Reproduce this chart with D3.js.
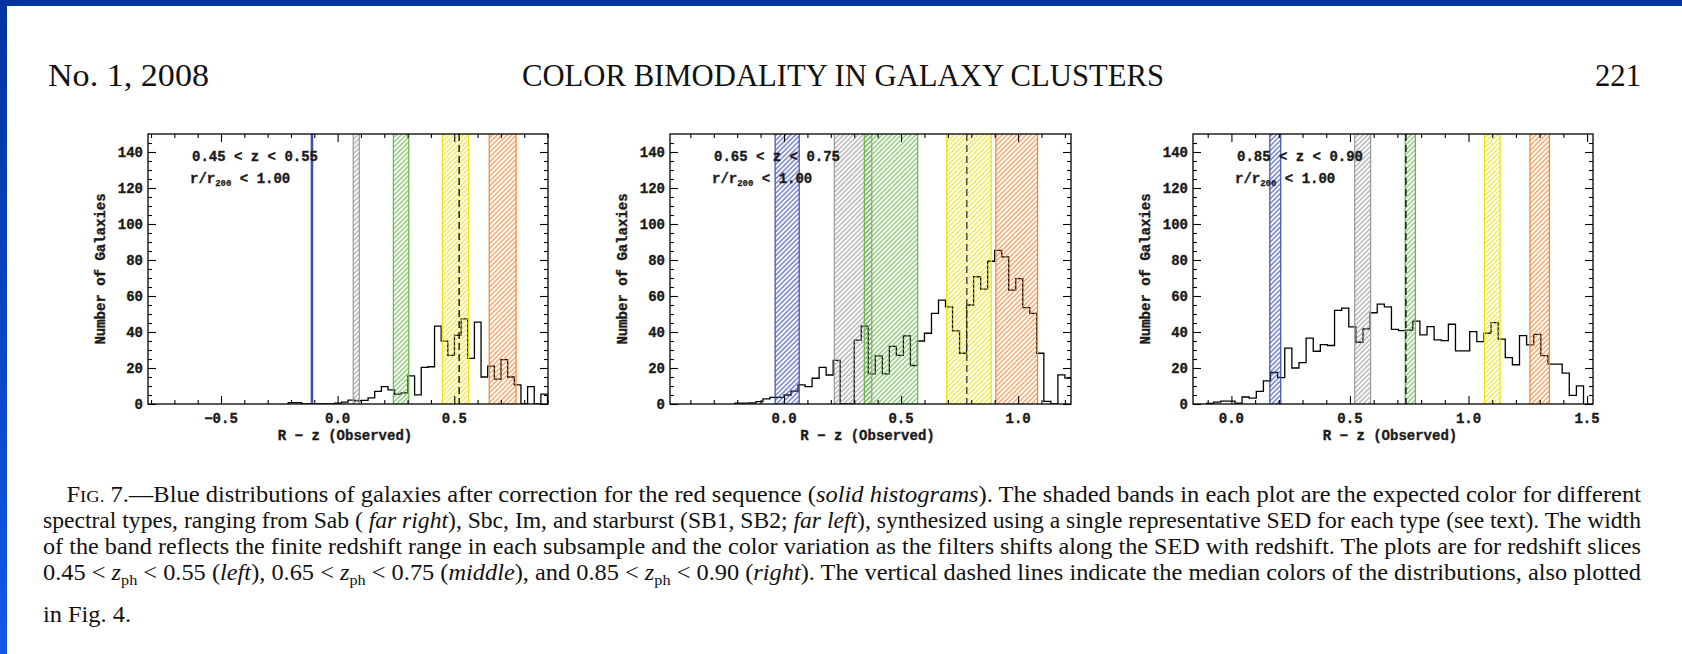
<!DOCTYPE html>
<html><head><meta charset="utf-8">
<script src="https://cdnjs.cloudflare.com/ajax/libs/d3/7.8.5/d3.min.js"></script>
<style>body{margin:0;background:#fff}svg{display:block}</style>
</head><body>
<svg id="c" width="1682" height="654"></svg>
<script>
// ---------------- data ----------------
const panelRanges = ["0.45 < z < 0.55", "0.65 < z < 0.75", "0.85 < z < 0.90"];
const radiusLabel = ["r/r", "200", " < 1.00"];
const xDomains = [[-0.813, 0.902], [-0.487, 1.226], [-0.162, 1.525]];
const yDomain = [0, 150];
const xMajorTicks = [[-0.5, 0.0, 0.5], [0.0, 0.5, 1.0], [0.0, 0.5, 1.0, 1.5]];
const yMajorTicks = [0, 20, 40, 60, 80, 100, 120, 140];
const binStarts = [-0.2115, -0.21, -0.105];
const binWidths = [0.0285, 0.03, 0.03];
const counts1 = [0.8,0.8,0,0,0,0,0,0.5,1,2.2,1.8,2,3.4,7,9.6,7.8,5.5,6.2,15.6,5.1,20.4,20.7,43.3,34.9,27,38.2,47.3,25.3,45.5,15,21,13.8,24.6,15,10.6,0,9.7,0,5.5];
const counts2 = [0.5,0.5,0.6,1.3,2.8,3.7,3.7,5,7.2,10.6,9.6,14.3,20.4,16.1,24.2,0,0,35.5,43.3,16.7,26.7,16.7,32,27,37.8,21.4,35,39.3,50.4,57.7,54,40.6,28.2,55,70.7,63.8,79.3,85.4,81.7,63.3,69.7,53.5,50.4,28.2,1.5,0,16.2,14.4];
const counts3 = [0.4,1.0,1.6,1.6,0.5,3.9,3.3,7,12.8,17.5,14.6,31,20,23,36.6,29.3,33,32.5,52,53.3,42.8,34.3,41.7,50.7,55.5,54,41.5,40.8,41,46,38.4,43,35.6,35.2,44.3,29.5,29.5,40.2,34.7,39.3,45.2,36,25.8,21.8,38,32.8,38.7,26.9,22.1,22.1,17.2,4.8,10.1];
const medians = [0.521, 0.781, 0.736];
const bandTypes = ["SB1", "SB2", "Im", "Sbc", "Sab"];
const bandColors = ["#3a4db4", "#999999", "#64b844", "#ebe10f", "#f2842f"];
const bands1 = [[-0.112, -0.108], [0.067, 0.093], [0.239, 0.305], [0.449, 0.562], [0.650, 0.765]];
const bands2 = [[-0.038, 0.065], [0.215, 0.375], [0.343, 0.571], [0.695, 0.885], [0.905, 1.083]];
const bands3 = [[0.162, 0.208], [0.520, 0.587], [0.733, 0.776], [1.067, 1.133], [1.259, 1.341]];
const xTitle = "R \u2212 z (Observed)";
const yTitle = "Number of Galaxies";
const headerLeft = "No. 1, 2008", headerMid = "COLOR BIMODALITY IN GALAXY CLUSTERS", headerRight = "221";
const captionLines = [
  [["F",""],["IG.","sc"],[" 7.\u2014Blue distributions of galaxies after correction for the red sequence (",""],["solid histograms","i"],["). The shaded bands in each plot are the expected color for different",""]],
  [["spectral types, ranging from Sab ( ",""],["far right","i"],["), Sbc, Im, and starburst (SB1, SB2; ",""],["far left","i"],["), synthesized using a single representative SED for each type (see text). The width",""]],
  [["of the band reflects the finite redshift range in each subsample and the color variation as the filters shifts along the SED with redshift. The plots are for redshift slices",""]],
  [["0.45 < ",""],["z","i"],["ph","sub"],[" < 0.55 (",""],["left","i"],["), 0.65 < ",""],["z","i"],["ph","sub"],[" < 0.75 (",""],["middle","i"],["), and 0.85 < ",""],["z","i"],["ph","sub"],[" < 0.90 (",""],["right","i"],["). The vertical dashed lines indicate the median colors of the distributions, also plotted",""]],
  [["in Fig. 4.",""]]
];

// ---------------- layout ----------------
const frames = [[148, 548], [670, 1071], [1193, 1593]];
const fTop = 134, fBot = 404;
const pfont = "'Liberation Mono', 'Courier New', monospace";
const serif = "'Liberation Serif', 'Times New Roman', serif";

const svg = d3.select("#c");
svg.append("rect").attr("width", 1682).attr("height", 654).attr("fill", "#fff");
const defs = svg.append("defs");
const lg = defs.append("linearGradient").attr("id", "lbar").attr("x1", 0).attr("y1", 0).attr("x2", 0).attr("y2", 1);
lg.append("stop").attr("offset", 0).attr("stop-color", "#0034a0");
lg.append("stop").attr("offset", 1).attr("stop-color", "#1458e6");
svg.append("rect").attr("x", 0).attr("y", 0).attr("width", 1682).attr("height", 6).attr("fill", "#0035a0");
svg.append("rect").attr("x", 0).attr("y", 0).attr("width", 7).attr("height", 654).attr("fill", "url(#lbar)");

bandColors.forEach((c, i) => {
  const p = defs.append("pattern").attr("id", "hatch" + i).attr("patternUnits", "userSpaceOnUse")
    .attr("width", 3.4).attr("height", 3.4).attr("patternTransform", "rotate(45)");
  p.append("line").attr("x1", 1.7).attr("y1", -1).attr("x2", 1.7).attr("y2", 4.4)
    .attr("stroke", c).attr("stroke-width", 1.05);
});

// header
const hdr = [[headerLeft, 48, 161], [headerMid, 522, 642], [headerRight, 1595, 46]];
hdr.forEach(([t, x, len]) => {
  svg.append("text").attr("x", x).attr("y", 86).attr("font-family", serif).attr("font-size", 31)
    .attr("textLength", len).attr("lengthAdjust", "spacingAndGlyphs").attr("fill", "#111").text(t);
});

const allCounts = [counts1, counts2, counts3];
const allBands = [bands1, bands2, bands3];
const txt = sel => sel.attr("font-family", pfont).attr("font-weight", "bold").attr("font-size", 14)
  .attr("fill", "#1a1a1a").attr("stroke", "#1a1a1a").attr("stroke-width", 0.35);

frames.forEach(([fx0, fx1], pi) => {
  const x = d3.scaleLinear().domain(xDomains[pi]).range([fx0, fx1]);
  const y = d3.scaleLinear().domain(yDomain).range([fBot, fTop]);
  const g = svg.append("g");
  const clipId = "clip" + pi;
  defs.append("clipPath").attr("id", clipId).append("rect")
    .attr("x", fx0).attr("y", fTop).attr("width", fx1 - fx0).attr("height", fBot - fTop);
  const inner = g.append("g").attr("clip-path", `url(#${clipId})`);

  // histogram
  const cs = allCounts[pi], s = binStarts[pi], w = binWidths[pi];
  const pts = [[s, 0]];
  cs.forEach((c, i) => pts.push([s + i * w, c]));
  pts.push([s + cs.length * w, cs[cs.length - 1]]);
  pts.push([s + cs.length * w, 0]);
  const line = d3.line().x(d => x(d[0])).y(d => y(d[1])).curve(d3.curveStepAfter);
  inner.append("path").attr("d", line(pts)).attr("fill", "none").attr("stroke", "#000").attr("stroke-width", 1.3);

  // bands
  allBands[pi].forEach((b, bi) => {
    const bx0 = x(b[0]), bx1 = x(b[1]);
    inner.append("rect").attr("x", bx0).attr("y", fTop).attr("width", Math.max(0, bx1 - bx0)).attr("height", fBot - fTop)
      .attr("fill", `url(#hatch${bi})`);
    [bx0, bx1].forEach(xx => inner.append("line").attr("x1", xx).attr("x2", xx).attr("y1", fTop).attr("y2", fBot)
      .attr("stroke", bandColors[bi]).attr("stroke-width", pi === 0 && bi === 0 ? 1.6 : 1.2));
  });

  // median
  inner.append("line").attr("x1", x(medians[pi])).attr("x2", x(medians[pi])).attr("y1", fTop).attr("y2", fBot)
    .attr("stroke", pi === 1 ? "#333" : "#000").attr("stroke-width", 1.3).attr("stroke-dasharray", "7,4");

  // axes ticks
  const [d0, d1] = xDomains[pi];
  const xMinor = d3.range(Math.ceil(d0 * 10), Math.floor(d1 * 10) + 1).filter(t => t % 5 !== 0).map(t => t / 10);
  const yMinor = d3.range(0, 150, 5).filter(t => t % 20 !== 0);
  const axG = g.append("g");
  const addAxis = (gen, tx, ty) => {
    const a = axG.append("g").attr("transform", `translate(${tx},${ty})`).call(gen);
    a.select(".domain").remove();
    a.selectAll("line").attr("stroke", "#000").attr("stroke-width", 1.1);
  };
  addAxis(d3.axisBottom(x).tickValues(xMajorTicks[pi]).tickSize(-8).tickFormat(""), 0, fBot);
  addAxis(d3.axisBottom(x).tickValues(xMinor).tickSize(-4).tickFormat(""), 0, fBot);
  addAxis(d3.axisTop(x).tickValues(xMajorTicks[pi]).tickSize(-8).tickFormat(""), 0, fTop);
  addAxis(d3.axisTop(x).tickValues(xMinor).tickSize(-4).tickFormat(""), 0, fTop);
  addAxis(d3.axisLeft(y).tickValues(yMajorTicks).tickSize(-8).tickFormat(""), fx0, 0);
  addAxis(d3.axisLeft(y).tickValues(yMinor).tickSize(-4).tickFormat(""), fx0, 0);
  addAxis(d3.axisRight(y).tickValues(yMajorTicks).tickSize(-8).tickFormat(""), fx1, 0);
  addAxis(d3.axisRight(y).tickValues(yMinor).tickSize(-4).tickFormat(""), fx1, 0);

  // frame
  g.append("rect").attr("x", fx0).attr("y", fTop).attr("width", fx1 - fx0).attr("height", fBot - fTop)
    .attr("fill", "none").attr("stroke", "#000").attr("stroke-width", 1.3);

  // tick labels
  const fmt = d3.format(".1f");
  g.selectAll(".xl").data(xMajorTicks[pi]).join("text").call(txt)
    .attr("x", d => x(d)).attr("y", fBot + 19).attr("text-anchor", "middle")
    .text(d => fmt(d));
  g.selectAll(".yl").data(yMajorTicks).join("text").call(txt)
    .attr("x", fx0 - 5).attr("y", d => y(d)).attr("dy", "0.36em").attr("text-anchor", "end")
    .text(d => d);

  // titles
  const xc = (fx0 + fx1) / 2 - 3;
  g.append("text").call(txt).attr("x", xc).attr("y", fBot + 36).attr("text-anchor", "middle").text(xTitle);
  g.append("text").call(txt).attr("transform", `translate(${fx0 - 48},${(fTop + fBot) / 2}) rotate(-90)`)
    .attr("dy", "0.35em").attr("text-anchor", "middle").text(yTitle);

  // annotations
  g.append("text").call(txt).attr("x", fx0 + 44).attr("y", 161).text(panelRanges[pi]);
  const rt = g.append("text").call(txt).attr("x", fx0 + 42).attr("y", 183);
  rt.append("tspan").text(radiusLabel[0]);
  rt.append("tspan").attr("font-size", 9).attr("stroke-width", 0.25).attr("dy", 3).text(radiusLabel[1]);
  rt.append("tspan").attr("dy", -3).text(radiusLabel[2]);
});

// caption
const capY = [502, 528, 554, 580, 622];
const capX = [66.5, 43, 43, 43, 43];
const capLen = [1574.5, 1598, 1598, 1598, 88];
captionLines.forEach((parts, li) => {
  const t = svg.append("text").attr("x", capX[li]).attr("y", capY[li]).attr("font-family", serif)
    .attr("font-size", 22.5).attr("fill", "#111");
  if (capLen[li]) t.attr("textLength", capLen[li]).attr("lengthAdjust", "spacingAndGlyphs");
  let shifted = false;
  parts.forEach(([txt, st]) => {
    const ts = t.append("tspan").text(txt);
    if (st === "i") ts.attr("font-style", "italic");
    if (st === "sc") ts.attr("font-size", 17);
    if (st === "sub") { ts.attr("font-size", 15).attr("dy", 5); shifted = true; }
    else if (shifted) { ts.attr("dy", -5); shifted = false; }
  });
});
</script>
</body></html>
